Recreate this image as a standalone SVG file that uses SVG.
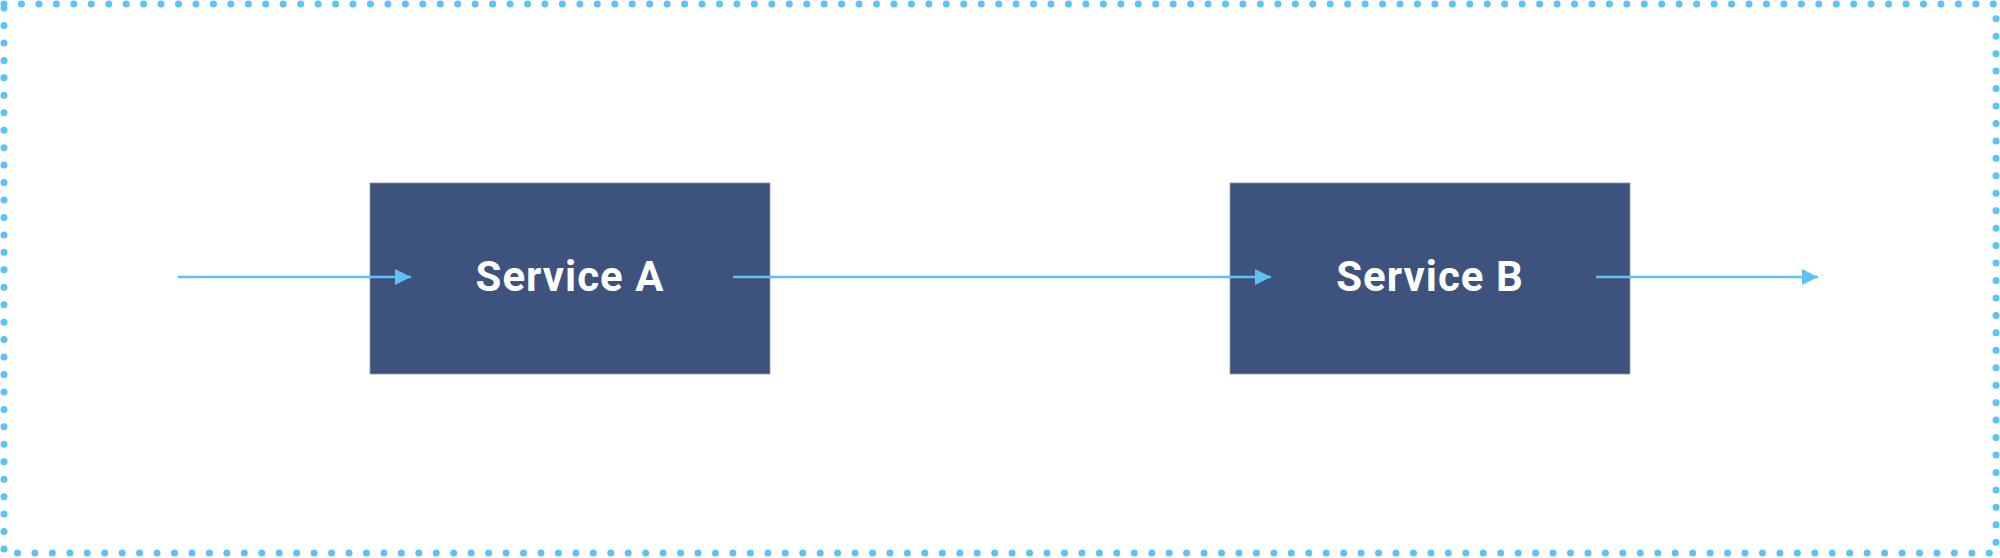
<svg xmlns="http://www.w3.org/2000/svg" width="2000" height="558" viewBox="0 0 2000 558">
<style>
.frame{fill:none;stroke:#5ec2f6;stroke-width:7;stroke-linecap:round;stroke-dasharray:0 17.45}
.box{fill:#3d527c;stroke:#8c9ab3;stroke-width:0.8}
.lbl{fill:#ffffff;font-family:Roboto,"Liberation Sans",sans-serif;font-weight:700;font-size:42px;letter-spacing:1px;text-anchor:middle}
.edge{fill:none;stroke:#5ec2f6;stroke-width:2.4}
</style>
<defs>
<marker id="ah" viewBox="0 0 10 10" refX="10" refY="5" markerWidth="16" markerHeight="18" markerUnits="userSpaceOnUse" orient="auto">
<path d="M0,0 L10,5 L0,10 z" fill="#5ec2f6"/>
</marker>
</defs>
<rect width="2000" height="558" fill="#ffffff"/>
<rect class="frame" x="4" y="4" width="1992" height="549"/>
<g id="serviceA">
<rect class="box" x="370" y="183" width="400" height="191"/>
<text class="lbl" x="570" y="291">Service A</text>
</g>
<g id="serviceB">
<rect class="box" x="1230" y="183" width="400" height="191"/>
<text class="lbl" x="1430" y="291">Service B</text>
</g>
<g id="connectors">
<line class="edge" x1="178" y1="277" x2="411" y2="277" marker-end="url(#ah)"/>
<line class="edge" x1="733" y1="277" x2="1271" y2="277" marker-end="url(#ah)"/>
<line class="edge" x1="1596" y1="277" x2="1818" y2="277" marker-end="url(#ah)"/>
</g>
</svg>
